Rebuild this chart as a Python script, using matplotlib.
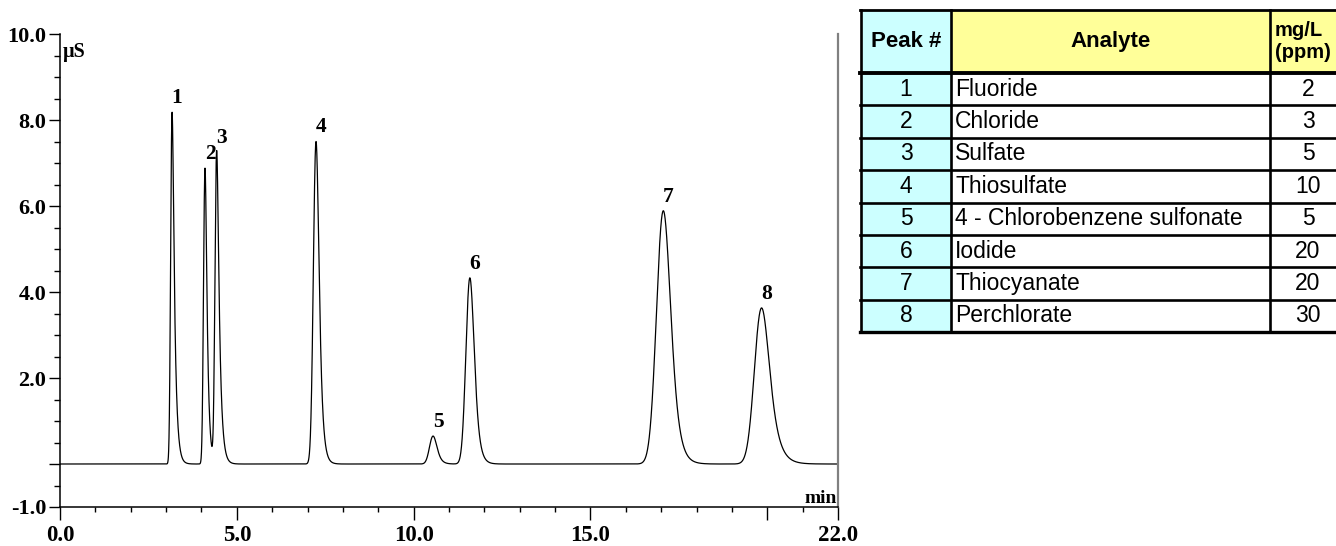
import numpy as np
import matplotlib
matplotlib.use("Agg")
import matplotlib.pyplot as plt
from matplotlib.patches import Rectangle
from matplotlib.lines import Line2D

# Peak table: retention time (min), height (µS), gaussian width and tailing (min)
peak_ids = ["1", "2", "3", "4", "5", "6", "7", "8"]
retention = [3.17, 4.10, 4.43, 7.24, 10.55, 11.59, 17.06, 19.84]
heights = [8.18, 6.88, 7.26, 7.50, 0.65, 4.33, 5.89, 3.63]
sigmas = [0.032, 0.034, 0.038, 0.064, 0.088, 0.098, 0.170, 0.175]
taus = [0.065, 0.056, 0.070, 0.075, 0.085, 0.095, 0.150, 0.190]

analytes = ["Fluoride", "Chloride", "Sulfate", "Thiosulfate",
            "4 - Chlorobenzene sulfonate", "Iodide", "Thiocyanate", "Perchlorate"]
conc = ["2", "3", "5", "10", "5", "20", "20", "30"]

x_major = [0, 5, 10, 15, 20, 22]
x_labels = ["0.0", "5.0", "10.0", "15.0", "", "22.0"]
y_major = [-1, 0, 2, 4, 6, 8, 10]
y_labels = ["-1.0", "", "2.0", "4.0", "6.0", "8.0", "10.0"]

W, H = 1336, 546
fig = plt.figure(figsize=(W / 100, H / 100), dpi=100)
ax = fig.add_axes([60 / W, 1 - 507 / H, 778 / W, 473 / H])

# Build the trace as a sum of exponentially modified gaussian peaks
dt = 0.002
t = np.arange(0, 22 + dt, dt)
signal = np.zeros_like(t)
for rt, h, s, tau in zip(retention, heights, sigmas, taus):
    u = np.arange(-1.5, 3.0, dt)
    g = np.exp(-0.5 * (u / s) ** 2)
    k = np.exp(-np.arange(0, 10 * tau, dt) / tau)
    shape = np.convolve(g, k)[: len(u)]
    shape /= shape.max()
    u_peak = u[np.argmax(shape)]
    signal += h * np.interp(t - rt + u_peak, u, shape, left=0, right=0)

ax.plot(t, signal, color="black", lw=0.9)

serif = "Liberation Serif"
for pid, rt, h in zip(peak_ids, retention, heights):
    ax.annotate(pid, (rt, h), xytext=(3.6, 3.0), textcoords="offset points",
                ha="center", va="bottom", fontsize=15.5, fontweight="bold",
                family=serif)

ax.set_xlim(0, 22)
ax.set_ylim(-1, 10)
ax.set_xticks(x_major)
ax.set_xticklabels(x_labels)
ax.set_xticks(np.arange(0, 23, 1), minor=True)
ax.set_yticks(y_major)
ax.set_yticklabels(y_labels)
ax.set_yticks(np.arange(-1, 10.01, 0.5), minor=True)

ax.tick_params(axis="x", which="major", direction="out", length=9, width=1.0, pad=4)
ax.tick_params(axis="x", which="minor", direction="out", length=3.6, width=1.0)
ax.tick_params(axis="y", which="major", direction="out", length=8, width=1.0, pad=2)
ax.tick_params(axis="y", which="minor", direction="out", length=4.5, width=1.0)
for lab in ax.get_xticklabels():
    lab.set_fontfamily(serif)
    lab.set_fontweight("bold")
    lab.set_fontsize(16.5)
for lab in ax.get_yticklabels():
    lab.set_fontfamily(serif)
    lab.set_fontweight("bold")
    lab.set_fontsize(16)

ax.spines["top"].set_visible(False)
ax.spines["left"].set_linewidth(1.1)
ax.spines["bottom"].set_linewidth(1.1)
ax.spines["right"].set_color("#808080")
ax.spines["right"].set_linewidth(1.6)

ax.text(0.003, 0.983, "µS", transform=ax.transAxes, ha="left", va="top",
        fontsize=14.5, fontweight="bold", family=serif)
ax.text(0.999, 0.009, "min", transform=ax.transAxes, ha="right", va="baseline",
        fontsize=14, fontweight="bold", family=serif)

# Analyte table drawn in figure pixel space
def fx(px):
    return px / W

def fy(py):
    return 1 - py / H

cols = [861, 951, 1270, 1346]
top, head_bot = 10, 73
row_h = (332 - 73) / 8
rows = [head_bot + i * row_h for i in range(9)]
cyan, yellow = "#CCFFFF", "#FFFF99"

def cell(x0, x1, y0, y1, color):
    fig.patches.append(Rectangle((fx(x0), fy(y1)), fx(x1) - fx(x0), fy(y0) - fy(y1),
                                 transform=fig.transFigure, facecolor=color,
                                 edgecolor="none", zorder=1))

cell(cols[0], cols[1], top, rows[-1], cyan)
cell(cols[1], cols[3], top, head_bot, yellow)
cell(cols[1], cols[3], head_bot, rows[-1], "white")

def hline(y, lw):
    fig.lines.append(Line2D([fx(cols[0] - 1), fx(cols[3])], [fy(y), fy(y)],
                            transform=fig.transFigure, color="black", lw=lw, zorder=3))

def vline(x, lw):
    fig.lines.append(Line2D([fx(x), fx(x)], [fy(top), fy(rows[-1])],
                            transform=fig.transFigure, color="black", lw=lw, zorder=3))

hline(top, 2.0)
hline(head_bot, 2.8)
for y in rows[1:-1]:
    hline(y, 1.9)
hline(rows[-1], 2.4)
for x in cols[:3]:
    vline(x, 1.9)

sans = "Liberation Sans"
hy = (top + head_bot) / 2
fig.text(fx((cols[0] + cols[1]) / 2), fy(hy), "Peak #", ha="center", va="center",
         fontsize=16, fontweight="bold", family=sans, zorder=4)
fig.text(fx((cols[1] + cols[2]) / 2), fy(hy), "Analyte", ha="center", va="center",
         fontsize=16, fontweight="bold", family=sans, zorder=4)
fig.text(fx(1275), fy(hy), "mg/L\n(ppm)", ha="left", va="center",
         fontsize=14.5, fontweight="bold", family=sans, linespacing=1.15, zorder=4)

for i in range(8):
    cy = fy((rows[i] + rows[i + 1]) / 2)
    fig.text(fx((cols[0] + cols[1]) / 2), cy, peak_ids[i], ha="center", va="center",
             fontsize=16.5, family=sans, zorder=4)
    fig.text(fx(cols[1] + 4), cy, analytes[i], ha="left", va="center",
             fontsize=16.5, family=sans, zorder=4)
    fig.text(fx(1308), cy, conc[i], ha="center", va="center",
             fontsize=16.5, family=sans, zorder=4)

fig.savefig("out.png", dpi=100, facecolor="white")
